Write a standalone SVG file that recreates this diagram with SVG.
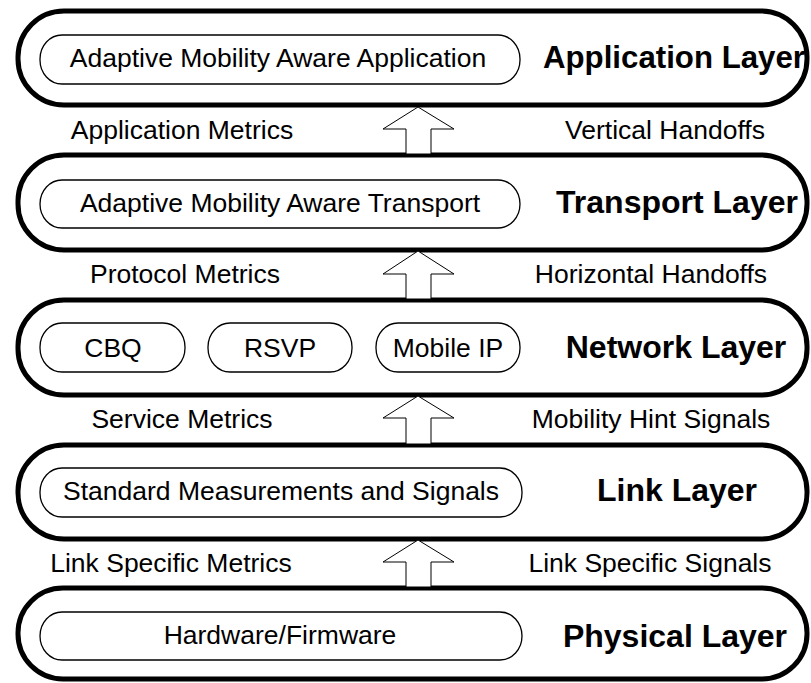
<svg xmlns="http://www.w3.org/2000/svg" width="811" height="683" viewBox="0 0 811 683">
<style>
.layer{fill:#fff;stroke:#000;stroke-width:5}
.pill{fill:#fff;stroke:#000;stroke-width:1.3}
.arrow{fill:#fff;stroke:#000;stroke-width:1}
text{font-family:"Liberation Sans",Arial,sans-serif;fill:#000}
.t{font-size:26.5px;text-anchor:middle}
.b{font-size:32px;font-weight:bold;text-anchor:middle}
</style>
<rect width="811" height="683" fill="#fff"/>
<g id="application">
<rect class="layer" x="18" y="11" width="789" height="94" rx="46" ry="46"/>
<rect class="pill" x="40" y="35" width="480" height="49" rx="22" ry="24"/>
<text class="t" x="278" y="67">Adaptive Mobility Aware Application</text>
<text class="b" x="674" y="68" textLength="262" lengthAdjust="spacingAndGlyphs">Application Layer</text>
</g>
<g id="transport">
<rect class="layer" x="18" y="155" width="789" height="95" rx="46" ry="46"/>
<rect class="pill" x="40" y="180" width="480" height="48" rx="22" ry="24"/>
<text class="t" x="280" y="212">Adaptive Mobility Aware Transport</text>
<text class="b" x="677" y="213">Transport Layer</text>
</g>
<g id="network">
<rect class="layer" x="18" y="300" width="789" height="95" rx="46" ry="46"/>
<rect class="pill" x="40" y="323" width="145" height="49" rx="22" ry="24"/>
<text class="t" x="113" y="357">CBQ</text>
<rect class="pill" x="208" y="323" width="144" height="49" rx="22" ry="24"/>
<text class="t" x="280" y="357">RSVP</text>
<rect class="pill" x="376" y="323" width="144" height="49" rx="22" ry="24"/>
<text class="t" x="448" y="357">Mobile IP</text>
<text class="b" x="676" y="358">Network Layer</text>
</g>
<g id="link">
<rect class="layer" x="18" y="445" width="789" height="94" rx="46" ry="46"/>
<rect class="pill" x="40" y="468" width="482" height="49" rx="22" ry="24"/>
<text class="t" x="281" y="500">Standard Measurements and Signals</text>
<text class="b" x="677" y="501">Link Layer</text>
</g>
<g id="physical">
<rect class="layer" x="18" y="588" width="789" height="91" rx="45" ry="45"/>
<rect class="pill" x="40" y="612" width="482" height="48" rx="22" ry="24"/>
<text class="t" x="280" y="644">Hardware/Firmware</text>
<text class="b" x="675" y="647">Physical Layer</text>
</g>
<g id="connectors">
<polygon class="arrow" points="418,107 383,129 406,129 406,154 431,154 431,129 454,129"/>
<polygon class="arrow" points="418,251 383,274 406,274 406,299 431,299 431,274 454,274"/>
<polygon class="arrow" points="418,396 383,418 406,418 406,444 431,444 431,418 454,418"/>
<polygon class="arrow" points="418,540 383,562 406,562 406,587 431,587 431,562 454,562"/>
</g>
<g id="labels">
<text class="t" x="182" y="139">Application Metrics</text>
<text class="t" x="665" y="139">Vertical Handoffs</text>
<text class="t" x="185" y="283">Protocol Metrics</text>
<text class="t" x="651" y="283">Horizontal Handoffs</text>
<text class="t" x="182" y="428">Service Metrics</text>
<text class="t" x="651" y="428">Mobility Hint Signals</text>
<text class="t" x="171" y="572">Link Specific Metrics</text>
<text class="t" x="650" y="572">Link Specific Signals</text>
</g>
</svg>
